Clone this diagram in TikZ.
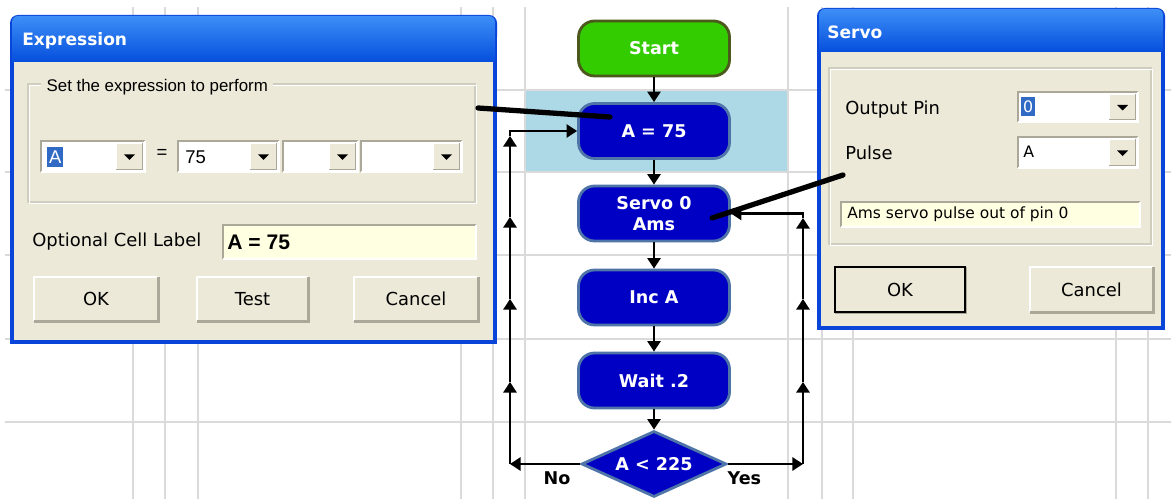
\documentclass[tikz,border=0pt]{standalone}
\usepackage{fontspec}
\setmainfont{DejaVu Sans}
\newfontfamily\arialfont{Liberation Sans}
\usetikzlibrary{shapes.geometric,arrows.meta}

\definecolor{gridgray}{HTML}{DADADA}
\definecolor{dlgbeige}{HTML}{ECE9D8}
\definecolor{xpframe}{HTML}{0A45DA}
\definecolor{titletop}{HTML}{3D8EF7}
\definecolor{titlemid}{HTML}{0057EC}
\definecolor{titlebot}{HTML}{0049DA}
\definecolor{etchgray}{HTML}{CFCDBE}
\definecolor{shadegray}{HTML}{ACA899}
\definecolor{tipyellow}{HTML}{FFFFE1}
\definecolor{selblue}{HTML}{316AC5}
\definecolor{hilite}{HTML}{ADD8E6}
\definecolor{cellblue}{HTML}{0000C4}
\definecolor{cellrim}{HTML}{4F74A8}
\definecolor{startgreen}{HTML}{33CC00}
\definecolor{startrim}{HTML}{4B5A1C}

\tikzset{
  gridline/.style={draw=gridgray, line width=1.1pt},
  cell/.style={rectangle, rounded corners=0.32cm, draw=cellrim, line width=1.6pt,
    fill=cellblue, text=white, minimum width=3.02cm, minimum height=1.1cm,
    align=center, font=\fontsize{10}{12}\selectfont\bfseries},
  startcell/.style={cell, fill=startgreen, draw=startrim},
  decide/.style={diamond, aspect=2.2, inner sep=0pt, draw=cellrim, line width=1.6pt,
    fill=cellblue, text=white, minimum width=2.9cm, minimum height=1.32cm,
    font=\fontsize{10}{12}\selectfont\bfseries},
  flow/.style={-{Triangle[length=6pt,width=7.5pt]}, line width=1.2pt},
  flowlabel/.style={font=\fontsize{10}{12}\selectfont\bfseries, inner sep=1pt},
  callout/.style={line width=3pt, line cap=round},
  wintitle/.style={text=white, inner sep=0pt, font=\fontsize{9.7}{11}\selectfont\bfseries},
  dlgtext/.style={inner sep=0pt, font=\fontsize{10.2}{12}\selectfont},
  combotext/.style={inner sep=0pt, font=\arialfont\fontsize{10.5}{12}\selectfont},
  seltext/.style={combotext, fill=selblue, text=white, inner xsep=1pt, inner ysep=2pt},
  pushbtn/.style={dlgtext, rectangle, fill=dlgbeige, minimum height=0.88cm}
}

\begin{document}
\begin{tikzpicture}[x=0.02cm, y=-0.02cm]
\useasboundingbox (0,0) rectangle (1171,499);
\fill[white] (0,0) rectangle (1171,499);

% editor grid
\foreach \gx in {133,165,198,461,493,525,788,822,853,1116,1148}
  \draw[gridline] (\gx,7) -- (\gx,499);
\foreach \gy in {90,172,255,339,422}
  \draw[gridline] (5,\gy) -- (1171,\gy);
\fill[hilite] (526,91) rectangle (787,171);

% flowchart cells
\node[startcell] (start) at (654,48.5) {Start};
\node[cell] (set) at (654,131) {A = 75};
\node[cell] (servo) at (654,213.5) {Servo 0\\Ams};
\node[cell] (inc) at (654,297.5) {Inc A};
\node[cell] (wait) at (654,380.5) {Wait .2};
\node[decide] (test) at (654,464) {A < 225};

\draw[flow] (start) -- (set);
\draw[flow] (set) -- (servo);
\draw[flow] (servo) -- (inc);
\draw[flow] (inc) -- (wait);
\draw[flow] (wait) -- (test);

% loop back on No
\coordinate (nocorner) at (510,464);
\coordinate (no1) at (510,382);
\coordinate (no2) at (510,299);
\coordinate (no3) at (510,217);
\coordinate (no4) at (510,136);
\draw[flow] (test.west) -- node[flowlabel, below=3pt, pos=0.33]{No} (nocorner);
\draw[flow] (nocorner) -- (no1);
\draw[flow] (no1) -- (no2);
\draw[flow] (no2) -- (no3);
\draw[flow] (no3) -- (no4);
\draw[flow] (no4) |- (set.west);

% loop back on Yes
\coordinate (yescorner) at (803,464);
\coordinate (yes1) at (803,382);
\coordinate (yes2) at (803,299);
\coordinate (yes3) at (803,218);
\draw[flow] (test.east) -- node[flowlabel, below=3pt, pos=0.22]{Yes} (yescorner);
\draw[flow] (yescorner) -- (yes1);
\draw[flow] (yes1) -- (yes2);
\draw[flow] (yes2) -- (yes3);
\draw[flow] (yes3) |- (servo.east);

% dialog windows
\foreach \wl/\wt/\wr/\wb/\wh in {10/15/497/344/62, 817/8/1165/330/52} {
  \fill[xpframe, rounded corners=0.16cm] (\wl,\wt) rectangle (\wr,{\wt+30});
  \fill[xpframe] (\wl,{\wt+15}) rectangle (\wr,\wb);
  \shade[top color=titletop, middle color=titlemid, bottom color=titlebot,
    rounded corners=0.12cm] ({\wl+2},{\wt+1}) rectangle ({\wr-2},{\wh+4});
  \fill[dlgbeige] ({\wl+4},\wh) rectangle ({\wr-4},{\wb-4});
}
\node[wintitle, anchor=west] (exprtitle) at (22,41) {Expression};
\node[wintitle, anchor=west] (servotitle) at (827,32) {Servo};

% group frames
\foreach \ga/\gb/\gc/\gd in {28/84/475/202, 829/68/1151/244} {
  \draw[etchgray, line width=1pt] (\ga,\gb) rectangle (\gc,\gd);
  \draw[white, line width=1pt] ({\ga+1.5},{\gb+1.5}) rectangle ({\gc+1.5},{\gd+1.5});
}
\node[combotext, fill=dlgbeige, inner xsep=3pt, inner ysep=2pt, anchor=west,
  font=\arialfont\fontsize{9.6}{11}\selectfont] (exprgroup) at (41,87) {Set the expression to perform};

% drop-down lists
\foreach \xa/\ya/\xb/\yb in {41/141/145/172, 178/141/279/172, 283/141/358/172,
    361/141/462/172, 1018/92/1138/122, 1018/137/1138/168} {
  \fill[white] (\xa,\ya) rectangle (\xb,\yb);
  \draw[shadegray, line width=1.2pt] (\xa,\yb) |- (\xb,\ya);
  \draw[white, line width=1.2pt] (\xa,\yb) -| (\xb,\ya);
  \fill[dlgbeige] ({\xb-29},{\ya+2.5}) rectangle ({\xb-2.5},{\yb-2.5});
  \draw[white, line width=0.8pt] ({\xb-29},{\yb-2.5}) |- ({\xb-2.5},{\ya+2.5});
  \draw[shadegray, line width=0.8pt] ({\xb-29},{\yb-2.5}) -| ({\xb-2.5},{\ya+2.5});
  \fill[black] ({\xb-21},{(\ya+\yb)/2-2}) -- ++(11,0) -- ++(-5.5,5.5) -- cycle;
}
\node[seltext, anchor=west] (lhs) at (47,157) {A};
\node[combotext] (equals) at (162,154) {=};
\node[combotext, anchor=west] (rhs) at (185,157) {75};
\node[seltext, anchor=west, font=\fontsize{9}{11}\selectfont] (pinvalue) at (1021,107) {0};
\node[combotext, anchor=west, font=\fontsize{9}{11}\selectfont] (pulsevalue) at (1023,152) {A};

% text fields
\foreach \fa/\fb/\fc/\fd in {223/225/476/259, 841/202/1140/227} {
  \fill[tipyellow] (\fa,\fb) rectangle (\fc,\fd);
  \draw[shadegray, line width=1.2pt] (\fa,\fd) |- (\fc,\fb);
  \draw[white, line width=1.2pt] (\fa,\fd) -| (\fc,\fb);
}
\node[dlgtext, anchor=west] (celllabel) at (32,242) {Optional Cell Label};
\node[combotext, anchor=west, font=\arialfont\fontsize{12}{14}\selectfont\bfseries] (cellvalue) at (227,242) {A = 75};
\node[dlgtext, anchor=west] (pinlabel) at (845,110) {Output Pin};
\node[dlgtext, anchor=west] (pulselabel) at (845,153) {Pulse};
\node[dlgtext, anchor=west, font=\fontsize{8.8}{10}\selectfont] (servonote) at (847,214.5) {Ams servo pulse out of pin 0};

% buttons
\node[pushbtn, minimum width=2.48cm] (ok) at (96,299) {OK};
\node[pushbtn, minimum width=2.22cm] (try) at (252.5,299) {Test};
\node[pushbtn, minimum width=2.48cm] (cancel) at (416,299) {Cancel};
\node[pushbtn, minimum width=2.6cm, minimum height=0.9cm] (sok) at (900,289.5) {OK};
\node[pushbtn, minimum width=2.46cm, minimum height=0.9cm] (scancel) at (1091.5,289.5) {Cancel};
\foreach \b in {ok,try,cancel,sok,scancel} {
  \draw[white, line width=1pt] (\b.south west) |- (\b.north east);
  \draw[shadegray, line width=1.6pt] (\b.south west) -| (\b.north east);
}
\draw[black, line width=1.1pt] (sok.south west) rectangle (sok.north east);

% pointers from the dialogs to their cells
\coordinate (exprpin) at (478,108);
\coordinate (setpin) at (610,117);
\coordinate (servopin) at (843,175);
\coordinate (servomark) at (712,218);
\draw[callout] (exprpin) -- (setpin);
\draw[callout] (servopin) -- (servomark);
\end{tikzpicture}
\end{document}
